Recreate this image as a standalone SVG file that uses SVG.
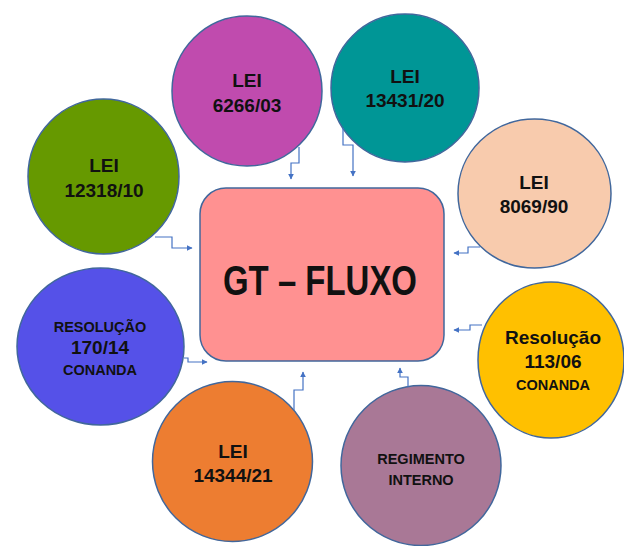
<svg xmlns="http://www.w3.org/2000/svg" width="624" height="546" viewBox="0 0 624 546">
<style>
.node{stroke:#41679C;stroke-width:1.5}
.t{font-family:"Liberation Sans",Arial,sans-serif;font-weight:bold;fill:#111;text-anchor:middle}
.c{font-size:19px}
.s{font-size:14.5px}
.conn{fill:none;stroke:#4472C4;stroke-width:1.2}
</style>
<defs>
<marker id="arr" viewBox="0 0 10 10" refX="9" refY="5" markerWidth="6" markerHeight="6" markerUnits="userSpaceOnUse" orient="auto">
<path d="M0,0 L10,5 L0,10 z" fill="#4472C4"/>
</marker>
</defs>
<rect width="624" height="546" fill="#ffffff"/>
<g id="gt-fluxo">
<rect class="node" x="200" y="188" width="244" height="173" rx="26" fill="#FF9191"/>
<text class="t" x="320" y="295" font-size="42" textLength="194" lengthAdjust="spacingAndGlyphs">GT – FLUXO</text>
</g>
<g id="lei-6266">
<circle class="node" cx="247" cy="91" r="75" fill="#C04BAE"/>
<text class="t c" x="247" y="87">LEI</text>
<text class="t c" x="247" y="112">6266/03</text>
</g>
<g id="lei-13431">
<circle class="node" cx="405" cy="88" r="74" fill="#009696"/>
<text class="t c" x="405" y="83">LEI</text>
<text class="t c" x="405" y="107">13431/20</text>
</g>
<g id="lei-12318">
<ellipse class="node" cx="103.5" cy="176.5" rx="75.5" ry="77.5" fill="#669900"/>
<text class="t c" x="104" y="172">LEI</text>
<text class="t c" x="104" y="197">12318/10</text>
</g>
<g id="lei-8069">
<ellipse class="node" cx="534.5" cy="193.5" rx="76.5" ry="74.5" fill="#F8CBAD"/>
<text class="t c" x="534" y="189">LEI</text>
<text class="t c" x="534" y="213">8069/90</text>
</g>
<g id="resolucao-170">
<ellipse class="node" cx="100.5" cy="346.5" rx="83.5" ry="78.5" fill="#5551E8"/>
<text class="t s" x="100" y="332">RESOLUÇÃO</text>
<text class="t c" x="100" y="354" font-size="17">170/14</text>
<text class="t s" x="100" y="375">CONANDA</text>
</g>
<g id="resolucao-113">
<ellipse class="node" cx="551" cy="360" rx="73" ry="78" fill="#FFC000"/>
<text class="t c" x="553" y="344">Resolução</text>
<text class="t c" x="553" y="368">113/06</text>
<text class="t s" x="553" y="390">CONANDA</text>
</g>
<g id="lei-14344">
<circle class="node" cx="232.5" cy="461.5" r="80" fill="#ED7D31"/>
<text class="t c" x="233" y="458">LEI</text>
<text class="t c" x="233" y="482">14344/21</text>
</g>
<g id="regimento-interno">
<circle class="node" cx="421" cy="465.5" r="80" fill="#A97896"/>
<text class="t s" x="421" y="464">REGIMENTO</text>
<text class="t s" x="421" y="485">INTERNO</text>
</g>
<g id="connectors">
<path class="conn" marker-end="url(#arr)" d="M299,147 V163 H291 V179"/>
<path class="conn" marker-end="url(#arr)" d="M343,128 V145 H353 V176"/>
<path class="conn" marker-end="url(#arr)" d="M155,237 H172 V248 H192"/>
<path class="conn" marker-end="url(#arr)" d="M480,247 H468 V253 H454"/>
<path class="conn" marker-end="url(#arr)" d="M184,358 H188 V362 H207"/>
<path class="conn" marker-end="url(#arr)" d="M482,325 H470 V330 H454"/>
<path class="conn" marker-end="url(#arr)" d="M294,410 V390 H303 V372"/>
<path class="conn" marker-end="url(#arr)" d="M408,387 V377 H400 V368"/>
</g>
</svg>
